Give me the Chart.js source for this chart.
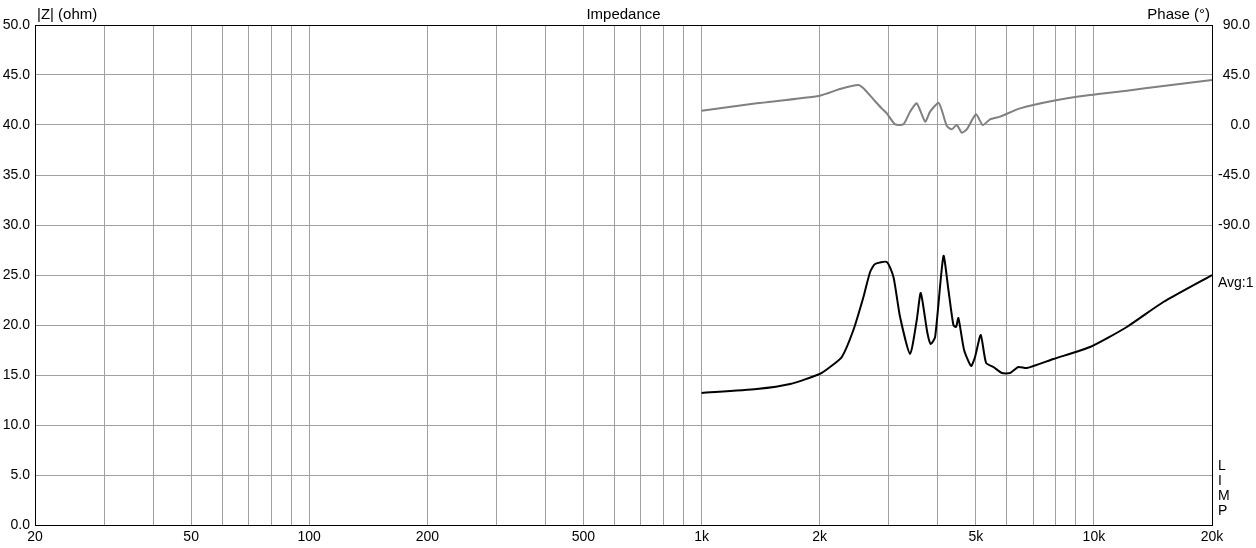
<!DOCTYPE html>
<html>
<head>
<meta charset="utf-8">
<script src="https://cdn.jsdelivr.net/npm/chart.js@4/dist/chart.umd.min.js"></script>
<style>
  html, body { margin: 0; padding: 0; background: #fff; }
  #wrap { width: 1256px; height: 548px; }
</style>
</head>
<body>
<div id="wrap"><canvas id="c" width="1256" height="548"></canvas></div>
<script>
// impedance magnitude (ohm) vs frequency (Hz)
const zFreq = [1000, 1382, 1682, 2000, 2126, 2278, 2438, 2586, 2689, 2768, 2966, 3084, 3206, 3400, 3536, 3620,
  3764, 3840, 3938, 4136, 4258, 4384, 4454, 4515, 4668, 4864, 4978, 5148, 5312, 5546, 5824, 6114, 6421, 6746,
  7884, 9780, 12130, 15030, 20000];
const zOhm = [13.2, 13.6, 14.1, 15.1, 15.8, 16.8, 19.5, 22.8, 25.3, 26.1, 26.3, 24.8, 20.8, 17.1, 20.5, 23.2,
  19.2, 18.1, 18.8, 26.9, 23.5, 20.0, 19.8, 20.7, 17.5, 15.9, 16.8, 19.0, 16.2, 15.8, 15.2, 15.2, 15.8, 15.7,
  16.6, 17.8, 19.8, 22.3, 25.0];

// phase (degrees) vs frequency (Hz)
const phFreq = [1000, 1382, 2000, 2254, 2510, 2586, 2742, 2878, 2966, 3114, 3270, 3400, 3536, 3714, 3824, 4016,
  4094, 4218, 4342, 4472, 4604, 4742, 5008, 5208, 5436, 5766, 6484, 7884, 9780, 12130, 15030, 20000];
const phDeg = [12.9, 19.5, 26.4, 32.4, 36.0, 33.0, 23.1, 15.0, 10.5, 0.6, 0.6, 12.0, 19.5, 3.0, 12.0, 20.1,
  13.5, -0.9, -3.9, 0.0, -6.9, -3.9, 9.6, 0.0, 5.1, 7.5, 15.0, 21.9, 27.0, 30.9, 35.1, 40.5];

const xGrid = [20, 30, 40, 50, 60, 70, 80, 90, 100, 200, 300, 400, 500, 600, 700, 800, 900,
  1000, 2000, 3000, 4000, 5000, 6000, 7000, 8000, 9000, 10000, 20000];
const xLabels = { 20: '20', 50: '50', 100: '100', 200: '200', 500: '500', 1000: '1k', 2000: '2k', 5000: '5k', 10000: '10k', 20000: '20k' };
const phaseLabels = [90, 45, 0, -45, -90];

const FAMILY = '"Liberation Sans", Arial, sans-serif';
const TICKFONT = { family: FAMILY, size: 14 };
const GRID = '#a0a0a0';

// frame, titles and side notes
const frame = {
  id: 'frame',
  afterDraw(chart) {
    const { ctx, chartArea: a } = chart;
    ctx.save();
    ctx.strokeStyle = '#000';
    ctx.lineWidth = 1;
    ctx.strokeRect(a.left + 0.5, a.top + 0.5, a.right - a.left, a.bottom - a.top);
    ctx.fillStyle = '#000';
    ctx.font = '15px ' + FAMILY;
    ctx.textBaseline = 'alphabetic';
    ctx.textAlign = 'left';
    ctx.fillText('|Z| (ohm)', a.left + 2, 19);
    ctx.textAlign = 'center';
    ctx.fillText('Impedance', (a.left + a.right) / 2, 19);
    ctx.textAlign = 'right';
    ctx.fillText('Phase (°)', a.right - 2, 19);
    ctx.font = '14px ' + FAMILY;
    ctx.textAlign = 'left';
    ctx.textBaseline = 'middle';
    ctx.fillText('Avg:1', a.right + 6, 283);
    ['L', 'I', 'M', 'P'].forEach((ch, i) => ctx.fillText(ch, a.right + 6, 466 + i * 15));
    ctx.restore();
  }
};

new Chart(document.getElementById('c'), {
  type: 'line',
  data: {
    datasets: [
      {
        label: 'Phase',
        data: phFreq.map((f, i) => ({ x: f, y: phDeg[i] })),
        yAxisID: 'yp',
        borderColor: '#808080',
        borderWidth: 2,
        pointRadius: 0,
        tension: 0.2,
        fill: false
      },
      {
        label: '|Z|',
        data: zFreq.map((f, i) => ({ x: f, y: zOhm[i] })),
        yAxisID: 'y',
        borderColor: '#000',
        borderWidth: 2,
        pointRadius: 0,
        tension: 0.2,
        fill: false
      }
    ]
  },
  options: {
    responsive: false,
    animation: false,
    events: [],
    layout: { padding: { top: 25, right: 6, left: 0, bottom: 0 } },
    plugins: { legend: { display: false }, tooltip: { enabled: false } },
    scales: {
      x: {
        type: 'logarithmic',
        min: 20, max: 20000,
        afterBuildTicks: s => { s.ticks = xGrid.map(v => ({ value: v })); },
        afterFit: s => { s.height = 23; },
        ticks: {
          autoSkip: false, maxRotation: 0, padding: 4,
          color: '#000', font: TICKFONT,
          callback: v => xLabels[v] || ''
        },
        grid: { color: GRID, drawTicks: false },
        border: { color: '#000' }
      },
      y: {
        position: 'left',
        min: 0, max: 50,
        afterBuildTicks: s => { s.ticks = []; for (let v = 0; v <= 50; v += 5) s.ticks.push({ value: v }); },
        afterFit: s => { s.width = 35; },
        ticks: { padding: 5, color: '#000', font: TICKFONT, callback: v => v.toFixed(1) },
        grid: { color: GRID, drawTicks: false },
        border: { color: '#000' }
      },
      yp: {
        position: 'right',
        min: -360, max: 90,
        afterBuildTicks: s => { s.ticks = phaseLabels.map(v => ({ value: v })); },
        afterFit: s => { s.width = 38; },
        ticks: { padding: 5, crossAlign: 'far', color: '#000', font: TICKFONT, callback: v => v.toFixed(1) },
        grid: { display: false, drawTicks: false },
        border: { color: '#000' }
      }
    }
  },
  plugins: [frame]
});
</script>
</body>
</html>
